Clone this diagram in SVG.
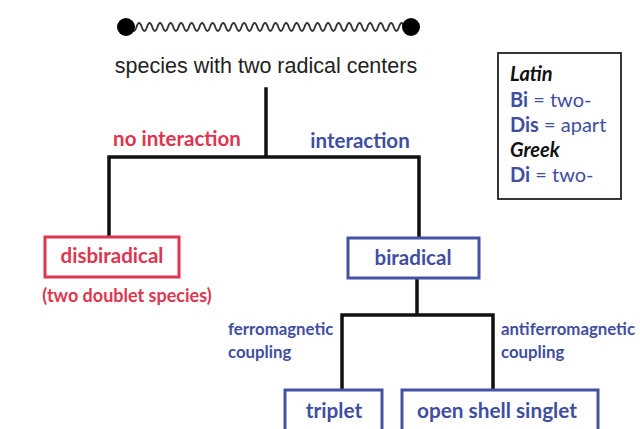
<svg xmlns="http://www.w3.org/2000/svg" width="640" height="429" viewBox="0 0 640 429">
<style>
.ln{fill:none;stroke:#111;stroke-width:3.5;stroke-linejoin:miter;stroke-linecap:square}
.red{fill:#e0354f;font-family:Lato,"Open Sans",sans-serif;font-weight:bold}
.blue{fill:#3f4ea1;font-family:Lato,"Open Sans",sans-serif;font-weight:bold}
.rbox{fill:#fff;stroke:#e0354f;stroke-width:3}
.bbox{fill:#fff;stroke:#4452a6;stroke-width:3}
.leg{font-family:Lato,"Open Sans",sans-serif;font-size:20px}
</style>
<rect width="640" height="429" fill="#fff"/>
<g id="molecule">
<path d="M126,27 q2.6,-8 5.25,0 t5.25,0 t5.25,0 t5.25,0 t5.25,0 t5.25,0 t5.25,0 t5.25,0 t5.25,0 t5.25,0 t5.25,0 t5.25,0 t5.25,0 t5.25,0 t5.25,0 t5.25,0 t5.25,0 t5.25,0 t5.25,0 t5.25,0 t5.25,0 t5.25,0 t5.25,0 t5.25,0 t5.25,0 t5.25,0 t5.25,0 t5.25,0 t5.25,0 t5.25,0 t5.25,0 t5.25,0 t5.25,0 t5.25,0 t5.25,0 t5.25,0 t5.25,0 t5.25,0 t5.25,0 t5.25,0 t5.25,0 t5.25,0 t5.25,0 t5.25,0 t5.25,0 t5.25,0 t5.25,0 t5.25,0 t5.25,0 t5.25,0 t5.25,0 t5.25,0 t5.25,0 t5.25,0" fill="none" stroke="#333" stroke-width="1.8"/>
<circle cx="126" cy="27" r="9" fill="#000"/>
<circle cx="411" cy="27" r="9" fill="#000"/>
<text x="266" y="73" text-anchor="middle" font-family="Liberation Sans,Arial,sans-serif" font-size="21.5" fill="#222">species with two radical centers</text>
</g>
<g id="connectors">
<path class="ln" d="M266,89 V157 M109,237 V157 H419 V237"/>
<path class="ln" d="M417,279 V315 M342,390 V315 H493 V390"/>
</g>
<g id="labels">
<text class="red" x="177" y="146" text-anchor="middle" font-size="20.5">no interaction</text>
<text class="blue" x="360" y="148" text-anchor="middle" font-size="20.5">interaction</text>
<text class="blue" x="228" y="335" font-size="16.8">ferromagnetic</text>
<text class="blue" x="228" y="358" font-size="16.8">coupling</text>
<text class="blue" x="501" y="335" font-size="16.8">antiferromagnetic</text>
<text class="blue" x="501" y="358" font-size="16.8">coupling</text>
</g>
<g id="disbiradical">
<rect class="rbox" x="45" y="237" width="134" height="40"/>
<text class="red" x="112" y="263" text-anchor="middle" font-size="20.5">disbiradical</text>
<text class="red" x="127" y="302" text-anchor="middle" font-size="18">(two doublet species)</text>
</g>
<g id="biradical">
<rect class="bbox" x="348" y="238" width="131" height="40"/>
<text class="blue" x="413" y="265" text-anchor="middle" font-size="20.5">biradical</text>
</g>
<g id="triplet">
<rect class="bbox" x="285" y="390" width="97" height="42"/>
<text class="blue" x="334" y="418" text-anchor="middle" font-size="20.8">triplet</text>
</g>
<g id="open-shell-singlet">
<rect class="bbox" x="402" y="390" width="196" height="42"/>
<text class="blue" x="497" y="418" text-anchor="middle" font-size="20.8">open shell singlet</text>
</g>
<g id="legend">
<rect x="498" y="53" width="123" height="146" fill="#fff" stroke="#222" stroke-width="1.8"/>
<text class="leg" x="510" y="81" font-weight="bold" font-style="italic" fill="#111">Latin</text>
<text class="leg" x="510" y="107" fill="#3f4ea1"><tspan font-weight="bold">Bi</tspan> = two-</text>
<text class="leg" x="510" y="132" fill="#3f4ea1"><tspan font-weight="bold">Dis</tspan> = apart</text>
<text class="leg" x="510" y="157" font-weight="bold" font-style="italic" fill="#111">Greek</text>
<text class="leg" x="510" y="182" fill="#3f4ea1"><tspan font-weight="bold">Di</tspan> = two-</text>
</g>
</svg>
